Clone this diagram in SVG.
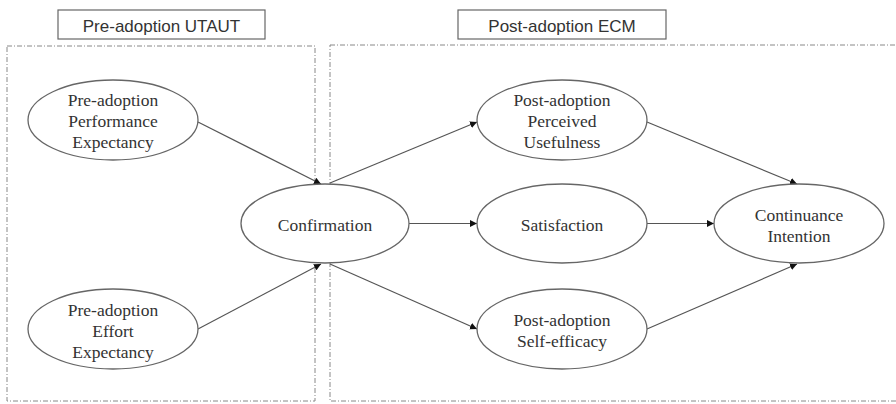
<svg xmlns="http://www.w3.org/2000/svg" width="896" height="404" viewBox="0 0 896 404">
<defs>
<style>
.hdr{fill:#fff;stroke:#666;stroke-width:1.2}
.hdrt{font-family:"Liberation Sans",Arial,sans-serif;font-size:17px;fill:#333;text-anchor:middle}
.zone{fill:none;stroke:#888;stroke-width:1;stroke-dasharray:5,2,1,2}
.node{fill:#fff;stroke:#666;stroke-width:1.3}
.lbl{font-family:"Liberation Serif","Times New Roman",serif;font-size:17.5px;fill:#333;text-anchor:middle}
.edge{stroke:#555;stroke-width:1.2;fill:none;marker-end:url(#arr)}
</style>
<marker id="arr" viewBox="0 0 10 10" refX="10" refY="5" markerWidth="7" markerHeight="7" markerUnits="userSpaceOnUse" orient="auto">
<path d="M0,0 L10,5 L0,10 z" fill="#111"/>
</marker>
</defs>
<rect width="896" height="404" fill="#fff"/>
<g id="zones">
<rect class="zone" x="7" y="46" width="308" height="355"/>
<rect class="zone" x="330" y="45" width="570" height="356"/>
</g>
<g id="header-pre">
<rect class="hdr" x="58" y="10" width="207" height="29"/>
<text class="hdrt" x="161.5" y="32">Pre-adoption UTAUT</text>
</g>
<g id="header-post">
<rect class="hdr" x="458" y="10" width="208" height="29"/>
<text class="hdrt" x="562" y="32">Post-adoption ECM</text>
</g>
<g id="connectors">
<line class="edge" x1="198" y1="122" x2="321" y2="184"/>
<line class="edge" x1="198" y1="329" x2="321" y2="264"/>
<line class="edge" x1="330" y1="183" x2="477" y2="122"/>
<line class="edge" x1="409" y1="223.5" x2="477" y2="223.5"/>
<line class="edge" x1="330" y1="264" x2="477" y2="329"/>
<line class="edge" x1="647" y1="122" x2="797" y2="184"/>
<line class="edge" x1="647" y1="223.5" x2="714" y2="223.5"/>
<line class="edge" x1="647" y1="329" x2="797" y2="264"/>
</g>
<g id="pe">
<ellipse class="node" cx="113" cy="120" rx="85" ry="40"/>
<text class="lbl"><tspan x="113" y="106">Pre-adoption</tspan><tspan x="113" y="127">Performance</tspan><tspan x="113" y="148">Expectancy</tspan></text>
</g>
<g id="ee">
<ellipse class="node" cx="113" cy="329" rx="85" ry="40"/>
<text class="lbl"><tspan x="113" y="316">Pre-adoption</tspan><tspan x="113" y="337">Effort</tspan><tspan x="113" y="358">Expectancy</tspan></text>
</g>
<g id="conf">
<ellipse class="node" cx="325" cy="223.5" rx="84" ry="39.5"/>
<text class="lbl" x="325" y="231">Confirmation</text>
</g>
<g id="pu">
<ellipse class="node" cx="562" cy="120" rx="85" ry="40"/>
<text class="lbl"><tspan x="562" y="106">Post-adoption</tspan><tspan x="562" y="127">Perceived</tspan><tspan x="562" y="148">Usefulness</tspan></text>
</g>
<g id="sat">
<ellipse class="node" cx="562" cy="223.5" rx="85" ry="39.5"/>
<text class="lbl" x="562" y="231">Satisfaction</text>
</g>
<g id="se">
<ellipse class="node" cx="562" cy="329" rx="85" ry="40"/>
<text class="lbl"><tspan x="562" y="326">Post-adoption</tspan><tspan x="562" y="347">Self-efficacy</tspan></text>
</g>
<g id="ci">
<ellipse class="node" cx="799" cy="223.5" rx="85" ry="39.5"/>
<text class="lbl"><tspan x="799" y="221">Continuance</tspan><tspan x="799" y="242">Intention</tspan></text>
</g>
</svg>
